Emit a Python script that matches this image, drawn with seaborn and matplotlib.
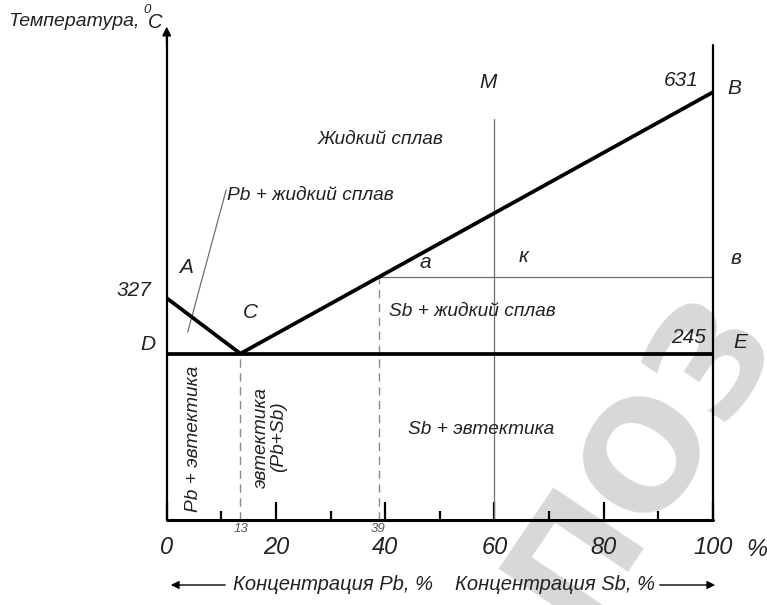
import matplotlib
matplotlib.use("Agg")
import matplotlib.pyplot as plt
import seaborn as sns
import pandas as pd

# ---- data ----
liq_left_x = [0, 13.5]          # Pb melting point -> eutectic C
liq_left_t = [327, 245]
liq_right_x = [13.5, 100]       # eutectic C -> Sb melting point B
liq_right_t = [245, 631]
eut_x = [0, 100]
eut_t = [245, 245]
point_a_x = 38.8
point_a_t = 358
m_x = 60
m_top_t = 592
line_A_x = [3.85, 10.9]
line_A_t = [277, 487]
major_ticks = [0, 20, 40, 60, 80, 100]
major_labels = ["0", "20", "40", "60", "80", "100"]
minor_ticks = [10, 30, 50, 70, 90]

sns.set_theme(style="white")
FONT = ["Liberation Sans", "DejaVu Sans"]
plt.rcParams["font.family"] = FONT

W, H = 767, 605
fig = plt.figure(figsize=(W / 100, H / 100), dpi=100)
fig.patch.set_facecolor("white")

x0, x1 = 166.7, 712.7
ybot = 519.5
pxT = 0.677
ytop_T = 723
ax = fig.add_axes([x0 / W, (H - ybot) / H, (x1 - x0) / W, ytop_T * pxT / H])
ax.set_xlim(0, 100)
ax.set_ylim(0, ytop_T)
ax.set_facecolor("none")
for s in ax.spines.values():
    s.set_visible(False)

TXT = "#222222"

def ptxt(px, py, s, size=13.8, **kw):
    kw.setdefault("ha", "center")
    kw.setdefault("va", "center")
    kw.setdefault("style", "italic")
    kw.setdefault("color", TXT)
    fig.text(px / W, 1 - py / H, s, fontsize=size, **kw)

# watermark (behind everything)
ax.text(642 / W, 1 - 458 / H, "ПОЗ", fontsize=108, fontweight="bold",
        family="DejaVu Sans", color="#d8d8d8", rotation=56,
        ha="center", va="center", zorder=0, transform=fig.transFigure,
        clip_on=False)

df_l = pd.DataFrame({"x": liq_left_x, "t": liq_left_t})
df_r = pd.DataFrame({"x": liq_right_x, "t": liq_right_t})
df_e = pd.DataFrame({"x": eut_x, "t": eut_t})
for d in (df_l, df_r, df_e):
    sns.lineplot(data=d, x="x", y="t", ax=ax, color="black", lw=2.7,
                 solid_capstyle="butt", zorder=5)

# axes frame lines
ax.plot([0, 0], [0, 715], color="black", lw=1.6, clip_on=False, zorder=4)
ax.annotate("", xy=(0, 728), xytext=(0, 700), annotation_clip=False,
            arrowprops=dict(arrowstyle="-|>", color="black", lw=1.2,
                            mutation_scale=13, shrinkA=0, shrinkB=0))
ax.plot([100, 100], [0, 701], color="black", lw=1.6, clip_on=False, zorder=4)
ax.plot([0, 100], [0, 0], color="black", lw=2.2, clip_on=False, zorder=4)

# thin construction lines
gray = "#6f6f6f"
ax.plot([m_x, m_x], [0, m_top_t], color=gray, lw=0.9, zorder=3)
ax.plot([point_a_x, 100], [point_a_t, point_a_t], color=gray, lw=0.9, zorder=3)
ax.plot(line_A_x, line_A_t, color=gray, lw=0.9, zorder=3)
ax.plot([liq_left_x[1]] * 2, [0, 245], color="#8a8a8a", lw=1.0,
        ls=(0, (6, 4)), zorder=3)
ax.plot([point_a_x] * 2, [0, point_a_t], color="#8a8a8a", lw=1.0,
        ls=(0, (6, 4)), zorder=3)

# ticks
ax.set_xticks(major_ticks)
ax.set_xticklabels(major_labels)
ax.set_xticks(minor_ticks, minor=True)
ax.set_yticks([])
ax.tick_params(axis="x", which="major", direction="in", length=13, width=1.6,
               color="black", pad=12, labelsize=17, bottom=True)
ax.tick_params(axis="x", which="minor", direction="in", length=6.5, width=1.6,
               color="black", bottom=True)
for lab in ax.get_xticklabels():
    lab.set_style("italic")
    lab.set_color(TXT)
    lab.set_family(FONT)
ax.set_xlabel("")
ax.set_ylabel("")

# labels
ptxt(8, 21, "Температура,", 14, ha="left")
ptxt(147, 10, "0", 9.5)
ptxt(155, 23, "C", 14.5)
ptxt(381, 140, "Жидкий сплав")
ptxt(310, 196, "Pb + жидкий сплав")
ptxt(186, 268, "A", 15)
ptxt(250, 312, "C", 15)
ptxt(425, 262, "a", 15)
ptxt(524, 256, "к", 15)
ptxt(736, 258, "в", 15)
ptxt(472, 312, "Sb + жидкий сплав")
ptxt(689, 337, "245", 15)
ptxt(740, 343, "E", 15)
ptxt(148, 345, "D", 15)
ptxt(134, 290, "327", 15)
ptxt(681, 81, "631", 15)
ptxt(734, 88, "B", 15)
ptxt(488, 82, "M", 15)
ptxt(481, 430, "Sb + эвтектика")
ptxt(194, 439, "Pb + эвтектика", rotation=90)
ptxt(270, 437, "эвтектика\n(Pb+Sb)", rotation=90, linespacing=1.0)
ptxt(241, 529, "13", 9.5, color="#555555")
ptxt(378, 529, "39", 9.5, color="#555555")
ptxt(757, 550, "%", 17)

# bottom captions with arrows
ptxt(333, 585, "Концентрация Pb, %", 14.5)
ptxt(555, 585, "Концентрация Sb, %", 14.5)
fig.add_artist(matplotlib.patches.FancyArrowPatch(
    (228 / W, 1 - 585 / H), (168 / W, 1 - 585 / H), transform=fig.transFigure,
    arrowstyle="-|>", mutation_scale=12, color="black", lw=1.0))
fig.add_artist(matplotlib.patches.FancyArrowPatch(
    (657 / W, 1 - 585 / H), (718 / W, 1 - 585 / H), transform=fig.transFigure,
    arrowstyle="-|>", mutation_scale=12, color="black", lw=1.0))

fig.savefig("out.png", dpi=100, facecolor="white")
